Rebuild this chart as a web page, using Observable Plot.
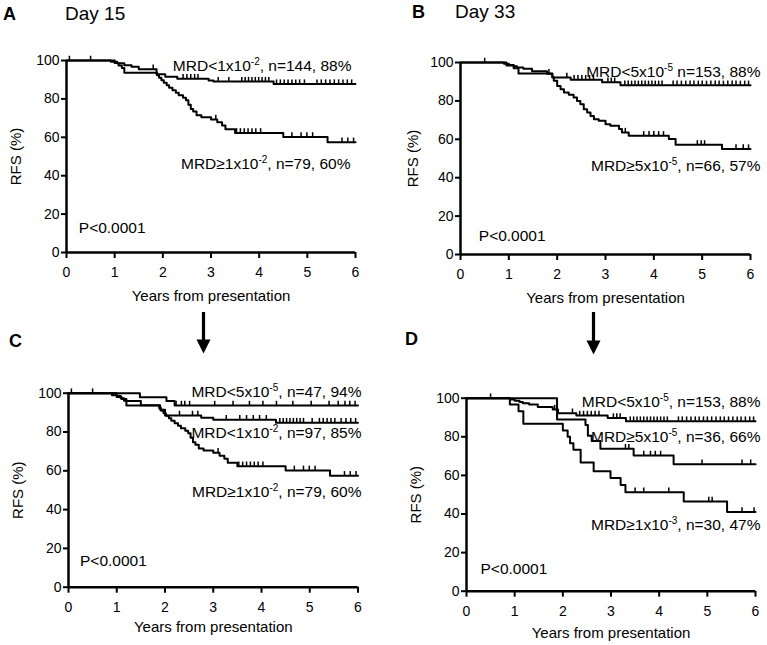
<!DOCTYPE html>
<html>
<head>
<meta charset="utf-8">
<script src="https://cdn.jsdelivr.net/npm/d3@7"></script>
<script src="https://cdn.jsdelivr.net/npm/@observablehq/plot@0.6"></script>
<style>
  body { margin: 0; background: #fff; font-family: "Liberation Sans", Arial, sans-serif; }
  #wrap { position: relative; width: 767px; height: 645px; overflow: hidden; background: #fff; }
  .panel { position: absolute; }
  .overlay { position: absolute; left: 0; top: 0; pointer-events: none; }
</style>
</head>
<body>
<div id="wrap"></div>
<script>
// ---------- tick labels ----------
const xTicks = [0, 1, 2, 3, 4, 5, 6];
const yTicks = [0, 20, 40, 60, 80, 100];

// ---------- Day 15: MRD<1x10^-2 (n=144) ----------
const d15LowT = [0, 0.92, 1.05, 1.2, 1.35, 1.5, 1.87, 2.05, 2.3, 2.95, 3.05, 4.3, 6];
const d15LowS = [100, 99.3, 98.6, 97.5, 96.8, 95.5, 92.8, 91.5, 90.5, 89.6, 89.0, 87.7, 87.7];
const d15LowC = [0.06, 0.5, 1.8, 2.42, 2.5, 2.58, 2.66, 2.73, 3.15, 3.37, 3.64, 3.71, 3.78, 3.85, 3.92, 3.99, 4.06, 4.13, 4.2, 4.36, 4.44, 4.52, 4.6, 4.68, 4.76, 4.84, 4.94, 5.2, 5.29, 5.38, 5.47, 5.56, 5.65, 5.74, 5.83, 5.92];

// ---------- Day 15: MRD>=1x10^-2 (n=79) ----------
const d15HighT = [0, 1.0, 1.08, 1.15, 1.2, 1.88, 1.92, 1.97, 2.02, 2.08, 2.13, 2.2, 2.27, 2.33, 2.42, 2.48, 2.53, 2.58, 2.63, 2.7, 2.8, 3.0, 3.13, 3.23, 3.3, 3.5, 4.5, 5.42, 6];
const d15HighS = [100, 98.7, 97.4, 96.1, 93.6, 92.3, 91.0, 89.7, 88.4, 87.1, 85.8, 84.5, 83.2, 81.9, 80.6, 79.3, 77.0, 74.7, 73.4, 71.5, 70.5, 69.3, 67.8, 66.2, 64.2, 62.3, 60.2, 57.4, 57.4];
const d15HighC = [3.1, 3.53, 3.61, 3.69, 3.77, 3.85, 3.93, 4.03, 4.68, 4.87, 4.99, 5.11, 5.72, 5.84, 5.96];

// ---------- Day 33: MRD<5x10^-5 (n=153) ----------
const d33LowT = [0, 0.9, 1.0, 1.1, 1.17, 1.3, 1.48, 1.79, 1.9, 2.28, 2.93, 3.31, 6];
const d33LowS = [100, 99.3, 98.7, 98.0, 97.4, 96.7, 95.4, 94.1, 92.2, 91.0, 89.7, 88.1, 88.1];
const d33LowC = [0.5, 1.83, 2.2, 2.35, 2.43, 2.51, 2.59, 2.67, 2.75, 3.05, 3.12, 3.19, 3.4, 3.47, 3.54, 3.61, 3.68, 3.75, 3.82, 3.89, 3.96, 4.03, 4.1, 4.17, 4.4, 4.48, 4.57, 4.66, 4.75, 4.83, 4.92, 5.0, 5.09, 5.18, 5.27, 5.35, 5.44, 5.53, 5.62, 5.7, 5.79, 5.88, 5.96];

// ---------- Day 33: MRD>=5x10^-5 (n=66) ----------
const d33HighT = [0, 0.95, 1.1, 1.2, 1.9, 1.93, 2.0, 2.07, 2.14, 2.24, 2.34, 2.41, 2.48, 2.55, 2.62, 2.69, 2.76, 2.86, 3.0, 3.1, 3.28, 3.34, 3.48, 4.31, 4.45, 5.41, 6];
const d33HighS = [100, 98.5, 97.0, 94.3, 92.5, 90.5, 87.8, 86.1, 84.4, 83.2, 81.8, 80.0, 78.3, 75.7, 74.0, 72.2, 70.5, 69.6, 67.9, 67.0, 65.3, 63.5, 61.8, 60.1, 57.1, 54.9, 54.9];
const d33HighC = [3.41, 3.79, 3.9, 4.0, 4.1, 4.2, 4.9, 4.98, 5.05, 5.7, 5.85, 5.96];

// ---------- Panel C: MRD<5x10^-5 (n=47) ----------
const cTopT = [0, 1.48, 2.03, 2.2, 6];
const cTopS = [100, 97.9, 96.0, 93.6, 93.6];
const cTopC = [2.23, 2.34, 2.41, 2.51, 3.03, 3.41, 3.75, 4.03, 4.31, 4.65, 5.03, 5.4, 5.59, 5.73, 5.83, 5.94];

// ---------- Panel C: MRD<1x10^-2 (n=97) ----------
const cMidT = [0, 0.9, 1.0, 1.1, 1.2, 1.5, 1.9, 2.0, 2.75, 3.0, 4.3, 6];
const cMidS = [100, 99, 98, 97, 96, 93.8, 91.5, 88.5, 87.4, 86.3, 84.8, 84.8];
const cMidC = [0.06, 0.5, 2.3, 2.57, 2.68, 3.27, 3.55, 3.69, 3.83, 3.96, 4.1, 4.38, 4.45, 4.52, 4.59, 4.66, 4.73, 4.8, 4.87, 5.05, 5.2, 5.28, 5.36, 5.44, 5.52, 5.65, 5.75, 5.85, 5.95];

// ---------- Panel D: MRD>=5x10^-5 (n=36) ----------
const dMidT = [0, 1.88, 2.47, 2.52, 2.6, 2.78, 3.47, 4.3, 6];
const dMidS = [100, 88.9, 86.1, 80.6, 77.8, 73.8, 70.3, 65.8, 65.8];
const dMidC = [3.3, 3.37, 3.68, 3.82, 3.92, 4.03, 4.89, 5.72, 5.9];

// ---------- Panel D: MRD>=1x10^-3 (n=30) ----------
const dHighT = [0, 0.9, 1.08, 1.18, 2.0, 2.1, 2.15, 2.22, 2.37, 2.64, 2.99, 3.2, 3.3, 4.51, 5.41, 6];
const dHighS = [100, 96.7, 93.3, 86.7, 83.3, 80.0, 76.7, 73.3, 66.7, 62.2, 58.7, 55.0, 51.3, 46.5, 41.0, 41.0];
const dHighC = [3.5, 3.68, 4.2, 5.03, 5.1, 5.72, 5.97];

// ---------- texts ----------
const pText = "P<0.0001";
const xTitle = "Years from presentation";
const yTitle = "RFS (%)";

// ---------- helpers ----------
function stepAt(T, S, t) { let v = S[0]; for (let i = 0; i < T.length; i++) if (T[i] <= t) v = S[i]; return v; }

function makePanel(cfg) {
  const lines = [], cens = [];
  cfg.curves.forEach((c, i) => {
    c.T.forEach((t, j) => lines.push({t, s: c.S[j], key: i}));
    c.C.forEach(t => cens.push({t, s: stepAt(c.T, c.S, t)}));
  });
  const labelMarks = cfg.labels.map(l => Plot.text([l], {
    x: d => d.T[d.T.length - 1], y: d => d.S[d.S.length - 1], text: d => d.text,
    textAnchor: "end", lineAnchor: "bottom", dx: l.dx, dy: l.dy, fontSize: 15.5, fill: "black"
  }));
  const svg = Plot.plot({
    width: cfg.w, height: cfg.h,
    marginTop: cfg.m[0], marginRight: cfg.m[1], marginBottom: cfg.m[2], marginLeft: cfg.m[3],
    x: {domain: [0, 6]}, y: {domain: [0, 100]},
    style: {fontFamily: "'Liberation Sans', Arial, sans-serif", fontSize: "14px", background: "transparent", color: "black", overflow: "visible"},
    marks: [
      Plot.axisX({ticks: xTicks, tickSize: 6, tickPadding: 9, strokeWidth: 2, label: null, fontSize: 14, tickFormat: d => String(d)}),
      Plot.axisY({ticks: yTicks, tickSize: 5, tickPadding: 2, strokeWidth: 2, label: null, fontSize: 14, tickFormat: d => String(d)}),
      Plot.line(lines, {x: "t", y: "s", z: "key", curve: "step-after", stroke: "black", strokeWidth: 2}),
      Plot.ruleX(cens, {x: "t", y1: "s", y2: d => d.s + 2.2, stroke: "black", strokeWidth: 1.5}),
      Plot.ruleX([0], {stroke: "black", strokeWidth: 2.5}),
      Plot.ruleY([0], {stroke: "black", strokeWidth: 2.5}),
      ...labelMarks,
      Plot.text([pText], {text: d => d, frameAnchor: "bottom-left", textAnchor: "start", lineAnchor: "bottom", dx: cfg.p[0], dy: cfg.p[1], fontSize: 15.5}),
      Plot.text([xTitle], {text: d => d, frameAnchor: "bottom", lineAnchor: "bottom", dy: cfg.xl, fontSize: 15}),
      Plot.text([yTitle], {text: d => d, frameAnchor: "left", rotate: -90, lineAnchor: "bottom", textAnchor: "middle", dx: cfg.yl, fontSize: 15})
    ]
  });
  superscripts(svg);
  const div = document.createElement("div");
  div.className = "panel";
  div.style.left = cfg.left + "px"; div.style.top = cfg.top + "px";
  div.style.width = cfg.w + "px"; div.style.height = cfg.h + "px";
  div.appendChild(svg);
  document.getElementById("wrap").appendChild(div);
}

function superscripts(svg) {
  const ns = "http://www.w3.org/2000/svg";
  svg.querySelectorAll("text").forEach(el => {
    const m = el.textContent.match(/^(.*)\{(.+)\}(.*)$/);
    if (!m) return;
    el.textContent = "";
    const a = document.createElementNS(ns, "tspan"); a.textContent = m[1];
    const b = document.createElementNS(ns, "tspan"); b.textContent = m[2];
    b.setAttribute("font-size", "10"); b.setAttribute("dy", "-6");
    const c = document.createElementNS(ns, "tspan"); c.textContent = m[3]; c.setAttribute("dy", "6");
    el.append(a, b, c);
  });
}

const d15Low = {T: d15LowT, S: d15LowS, C: d15LowC};
const d15High = {T: d15HighT, S: d15HighS, C: d15HighC};
const d33Low = {T: d33LowT, S: d33LowS, C: d33LowC};
const d33High = {T: d33HighT, S: d33HighS, C: d33HighC};
const cTop = {T: cTopT, S: cTopS, C: cTopC};
const cMid = {T: cMidT, S: cMidS, C: cMidC};
const dMid = {T: dMidT, S: dMidS, C: dMidC};
const dHigh = {T: dHighT, S: dHighS, C: dHighC};

// Panel A
makePanel({
  left: 0, top: 0, w: 380, h: 320, m: [60, 25, 68, 66],
  curves: [d15Low, d15High],
  labels: [
    {...d15Low, text: "MRD<1x10{-2}, n=144, 88%", dx: -4, dy: -13.6},
    {...d15High, text: "MRD\u22651x10{-2}, n=79, 60%", dx: -5, dy: 26.5}
  ],
  p: [12.3, -19.7], xl: 48, yl: -46
});
// Panel B
makePanel({
  left: 380, top: 0, w: 387, h: 320, m: [62, 17, 66, 80],
  curves: [d33Low, d33High],
  labels: [
    {...d33Low, text: "MRD<5x10{-5} n=153, 88%", dx: 10, dy: -8.8},
    {...d33High, text: "MRD\u22655x10{-5}, n=66, 57%", dx: 10, dy: 22}
  ],
  p: [18.3, -13.3], xl: 48, yl: -43
});
// Panel C
makePanel({
  left: 0, top: 320, w: 380, h: 325, m: [72.7, 22.5, 58.3, 68],
  curves: [cTop, cMid, d15High],
  labels: [
    {...cTop, text: "MRD<5x10{-5}, n=47, 94%", dx: 3.5, dy: -8.4},
    {...cMid, text: "MRD<1x10{-2}, n=97, 85%", dx: 3.5, dy: 15},
    {...d15High, text: "MRD\u22651x10{-2}, n=79, 60%", dx: 3.5, dy: 21.4}
  ],
  p: [11.5, -21.7], xl: 45, yl: -46
});
// Panel D
makePanel({
  left: 380, top: 320, w: 387, h: 325, m: [77.7, 12, 54.3, 86],
  curves: [d33Low, dMid, dHigh],
  labels: [
    {...d33Low, text: "MRD<5x10{-5}, n=153, 88%", dx: 5, dy: -14},
    {...dMid, text: "MRD\u22655x10{-5}, n=36, 66%", dx: 5, dy: -22.7},
    {...dHigh, text: "MRD\u22651x10{-3}, n=30, 47%", dx: 5, dy: 18.4}
  ],
  p: [14, -17.4], xl: 47, yl: -46
});

// ---------- overlay: panel letters, titles, arrows ----------
const ov = d3.select("#wrap").append("svg").attr("class", "overlay").attr("width", 767).attr("height", 645)
  .style("font-family", "'Liberation Sans', Arial, sans-serif");
const letters = [["A", 3, 20], ["B", 412, 18], ["C", 9, 347], ["D", 405, 345]];
ov.selectAll("text.letter").data(letters).join("text").attr("class", "letter")
  .attr("x", d => d[1]).attr("y", d => d[2]).attr("font-size", 18).attr("font-weight", "bold").text(d => d[0]);
const titles = [["Day 15", 65, 20], ["Day 33", 455, 18]];
ov.selectAll("text.title").data(titles).join("text").attr("class", "title")
  .attr("x", d => d[1]).attr("y", d => d[2]).attr("font-size", 19).text(d => d[0]);
const arrows = [[203.5, 312, 353.5], [593.5, 312, 354.5]];
arrows.forEach(([x, y0, y1]) => {
  ov.append("rect").attr("x", x - 1.6).attr("y", y0).attr("width", 3.2).attr("height", y1 - y0 - 12).attr("fill", "black");
  ov.append("path").attr("d", `M${x - 7},${y1 - 14}L${x + 7},${y1 - 14}L${x},${y1}Z`).attr("fill", "black");
});
</script>
</body>
</html>
